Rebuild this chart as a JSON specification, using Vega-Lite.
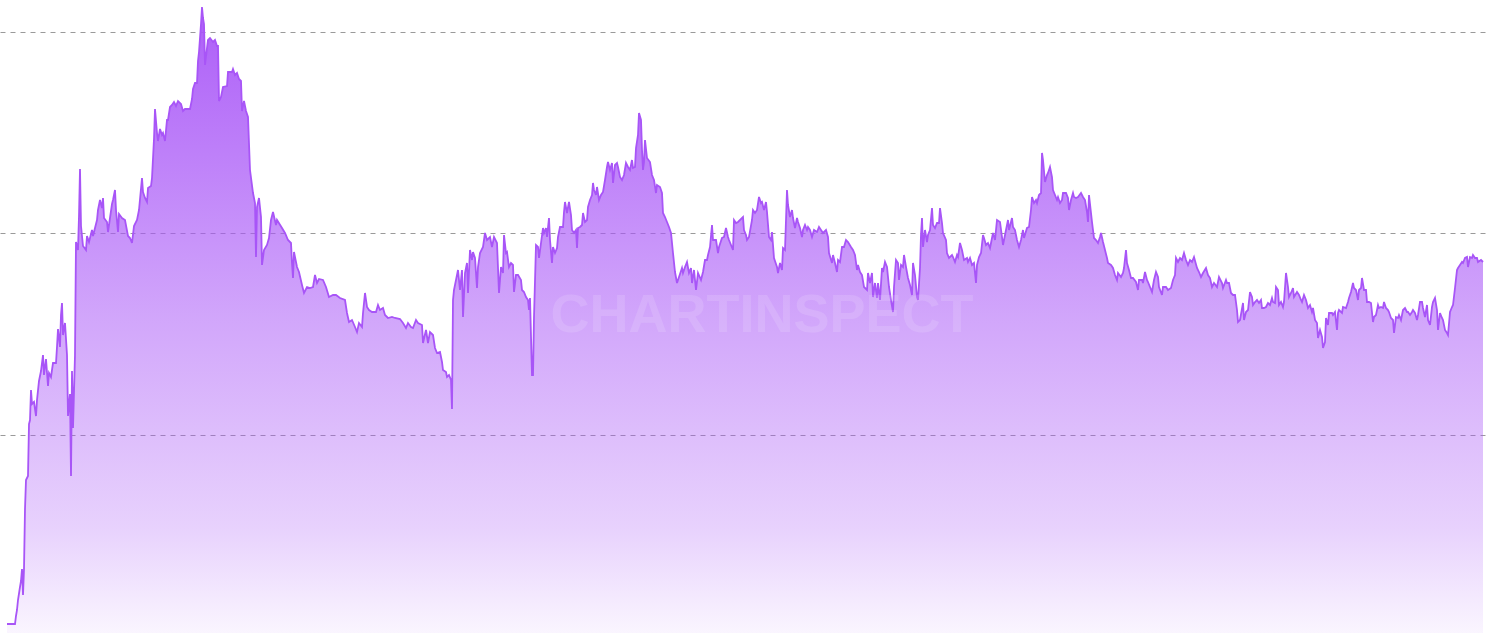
{
"$schema":"https://vega.github.io/schema/vega-lite/v6.json",
"width":1486,"height":633,"padding":0,"autosize":{"type":"none"},
"background":"white",
"config":{"view":{"stroke":null}},
"datasets":{"series":[
{"t":7,"v":9},{"t":15,"v":9},{"t":16,"v":17},{"t":17,"v":23},{"t":18,"v":33},{"t":20,"v":46},{"t":21,"v":52},{"t":22,"v":64},{"t":23,"v":38},{"t":24,"v":64},{"t":25,"v":124},{"t":26,"v":153},{"t":28,"v":157},{"t":29,"v":209},{"t":30,"v":213},{"t":31,"v":243},{"t":32,"v":229},{"t":34,"v":231},{"t":36,"v":217},{"t":37,"v":233},{"t":39,"v":252},{"t":41,"v":262},{"t":43,"v":278},{"t":44,"v":258},{"t":46,"v":274},{"t":48,"v":247},{"t":49,"v":260},{"t":51,"v":256},{"t":53,"v":270},{"t":56,"v":270},{"t":57,"v":286},{"t":58,"v":304},{"t":60,"v":286},{"t":61,"v":318},{"t":62,"v":330},{"t":63,"v":298},{"t":65,"v":310},{"t":67,"v":278},{"t":68,"v":217},{"t":70,"v":239},{"t":71,"v":157},{"t":72,"v":262},{"t":73,"v":205},{"t":75,"v":278},{"t":76,"v":391},{"t":78,"v":383},{"t":79,"v":417},{"t":80,"v":464},{"t":81,"v":407},{"t":83,"v":387},{"t":86,"v":383},{"t":87,"v":397},{"t":89,"v":391},{"t":92,"v":403},{"t":93,"v":397},{"t":97,"v":413},{"t":98,"v":423},{"t":100,"v":433},{"t":102,"v":425},{"t":103,"v":435},{"t":104,"v":415},{"t":107,"v":411},{"t":108,"v":401},{"t":110,"v":415},{"t":112,"v":429},{"t":113,"v":433},{"t":115,"v":443},{"t":116,"v":423},{"t":118,"v":401},{"t":119,"v":419},{"t":122,"v":415},{"t":125,"v":413},{"t":128,"v":397},{"t":130,"v":395},{"t":132,"v":390},{"t":134,"v":407},{"t":137,"v":413},{"t":139,"v":423},{"t":142,"v":455},{"t":143,"v":441},{"t":145,"v":435},{"t":147,"v":431},{"t":148,"v":445},{"t":151,"v":447},{"t":152,"v":455},{"t":154,"v":494},{"t":155,"v":524},{"t":157,"v":500},{"t":158,"v":492},{"t":160,"v":504},{"t":162,"v":498},{"t":163,"v":500},{"t":165,"v":492},{"t":167,"v":513},{"t":168,"v":513},{"t":170,"v":526},{"t":172,"v":528},{"t":174,"v":531},{"t":176,"v":527},{"t":178,"v":532},{"t":181,"v":529},{"t":183,"v":522},{"t":185,"v":524},{"t":190,"v":524},{"t":192,"v":534},{"t":193,"v":544},{"t":195,"v":550},{"t":197,"v":550},{"t":198,"v":572},{"t":199,"v":581},{"t":201,"v":609},{"t":202,"v":626},{"t":203,"v":615},{"t":204,"v":609},{"t":205,"v":568},{"t":207,"v":585},{"t":208,"v":593},{"t":210,"v":595},{"t":213,"v":591},{"t":215,"v":593},{"t":217,"v":587},{"t":218,"v":587},{"t":219,"v":532},{"t":221,"v":536},{"t":223,"v":546},{"t":227,"v":547},{"t":228,"v":561},{"t":232,"v":561},{"t":233,"v":564},{"t":235,"v":558},{"t":237,"v":560},{"t":239,"v":554},{"t":241,"v":552},{"t":242,"v":522},{"t":244,"v":532},{"t":246,"v":522},{"t":248,"v":516},{"t":250,"v":463},
{"t":253,"v":440},{"t":255,"v":430},{"t":256,"v":376},{"t":257,"v":426},{"t":259,"v":435},{"t":261,"v":416},{"t":262,"v":368},{"t":264,"v":383},{"t":267,"v":388},{"t":269,"v":395},{"t":271,"v":413},{"t":273,"v":421},{"t":276,"v":408},{"t":277,"v":413},{"t":282,"v":405},{"t":285,"v":400},{"t":288,"v":393},{"t":291,"v":390},{"t":292,"v":370},{"t":293,"v":355},{"t":294,"v":381},{"t":297,"v":366},{"t":299,"v":361},{"t":302,"v":348},{"t":304,"v":340},{"t":307,"v":346},{"t":310,"v":345},{"t":313,"v":346},{"t":315,"v":358},{"t":317,"v":350},{"t":319,"v":354},{"t":323,"v":353},{"t":326,"v":346},{"t":329,"v":336},{"t":333,"v":338},{"t":336,"v":338},{"t":340,"v":335},{"t":345,"v":333},{"t":347,"v":320},{"t":349,"v":311},{"t":352,"v":313},{"t":355,"v":306},{"t":357,"v":301},{"t":359,"v":310},{"t":362,"v":306},{"t":363,"v":320},{"t":365,"v":340},{"t":367,"v":326},{"t":369,"v":323},{"t":372,"v":321},{"t":376,"v":321},{"t":378,"v":328},{"t":380,"v":323},{"t":383,"v":325},{"t":385,"v":318},{"t":388,"v":315},{"t":392,"v":316},{"t":395,"v":315},{"t":400,"v":314},{"t":403,"v":310},{"t":406,"v":305},{"t":408,"v":310},{"t":411,"v":306},{"t":413,"v":305},{"t":416,"v":313},{"t":418,"v":310},{"t":422,"v":308},{"t":423,"v":290},{"t":426,"v":303},{"t":428,"v":290},{"t":430,"v":301},{"t":433,"v":298},{"t":435,"v":285},{"t":437,"v":280},{"t":440,"v":281},{"t":442,"v":271},{"t":443,"v":263},{"t":446,"v":261},{"t":447,"v":256},{"t":449,"v":258},{"t":451,"v":253},{"t":452,"v":224},{"t":453,"v":333},{"t":454,"v":343},{"t":456,"v":353},{"t":458,"v":363},{"t":460,"v":343},{"t":462,"v":363},{"t":463,"v":316},{"t":465,"v":360},{"t":467,"v":370},{"t":468,"v":340},{"t":470,"v":383},{"t":472,"v":373},{"t":473,"v":381},{"t":475,"v":375},{"t":477,"v":345},{"t":478,"v":366},{"t":480,"v":380},{"t":483,"v":386},{"t":485,"v":400},{"t":487,"v":393},
{"t":490,"v":396},{"t":492,"v":386},{"t":494,"v":396},{"t":497,"v":390},{"t":499,"v":340},{"t":501,"v":366},{"t":503,"v":360},{"t":504,"v":398},{"t":506,"v":380},{"t":507,"v":381},{"t":509,"v":366},{"t":511,"v":370},{"t":513,"v":368},{"t":514,"v":341},{"t":516,"v":358},{"t":518,"v":358},{"t":521,"v":353},{"t":522,"v":343},{"t":524,"v":341},{"t":526,"v":336},{"t":528,"v":333},{"t":529,"v":323},{"t":530,"v":335},{"t":532,"v":258},{"t":533,"v":258},{"t":534,"v":316},{"t":536,"v":388},{"t":538,"v":386},{"t":539,"v":375},{"t":541,"v":390},{"t":543,"v":405},{"t":544,"v":400},{"t":546,"v":405},{"t":547,"v":396},{"t":549,"v":415},{"t":550,"v":393},{"t":552,"v":370},{"t":553,"v":386},{"t":555,"v":380},{"t":557,"v":385},{"t":558,"v":396},{"t":560,"v":406},{"t":563,"v":406},{"t":564,"v":421},{"t":565,"v":431},{"t":567,"v":420},{"t":569,"v":431},{"t":571,"v":418},{"t":572,"v":403},{"t":574,"v":400},{"t":576,"v":403},{"t":577,"v":385},{"t":578,"v":405},{"t":580,"v":406},{"t":582,"v":408},{"t":583,"v":420},{"t":585,"v":411},{"t":587,"v":413},{"t":588,"v":426},{"t":590,"v":433},{"t":592,"v":438},{"t":593,"v":450},{"t":594,"v":443},{"t":596,"v":438},{"t":597,"v":446},{"t":599,"v":433},{"t":601,"v":438},{"t":603,"v":441},{"t":605,"v":453},{"t":607,"v":466},{"t":608,"v":471},{"t":610,"v":463},{"t":612,"v":470},{"t":613,"v":450},{"t":615,"v":468},{"t":617,"v":470},{"t":618,"v":466},{"t":620,"v":456},{"t":622,"v":453},{"t":624,"v":458},{"t":626,"v":470},{"t":628,"v":466},{"t":630,"v":463},{"t":632,"v":473},{"t":633,"v":465},{"t":635,"v":466},{"t":636,"v":485},{"t":638,"v":498},{"t":639,"v":520},{"t":641,"v":513},{"t":642,"v":483},{"t":643,"v":463},{"t":644,"v":471},{"t":645,"v":493},{"t":647,"v":475},{"t":650,"v":471},{"t":652,"v":458},{"t":654,"v":453},{"t":656,"v":440},{"t":657,"v":448},{"t":660,"v":446},{"t":662,"v":440},{"t":663,"v":420},{"t":665,"v":416},{"t":667,"v":411},{"t":669,"v":406},{"t":671,"v":400},{"t":673,"v":380},{"t":675,"v":361},{"t":677,"v":350},{"t":679,"v":356},{"t":682,"v":365},{"t":683,"v":360},{"t":685,"v":366},{"t":687,"v":371},{"t":689,"v":360},{"t":691,"v":365},{"t":692,"v":350},{"t":694,"v":363},{"t":696,"v":343},{"t":698,"v":360},{"t":701,"v":353},{"t":703,"v":361},{"t":705,"v":373},{"t":707,"v":373},{"t":708,"v":378},{"t":710,"v":386},{"t":712,"v":408},{"t":713,"v":393},{"t":716,"v":393},{"t":718,"v":380},{"t":719,"v":386},{"t":722,"v":395},{"t":724,"v":396},{"t":726,"v":405},{"t":728,"v":396},{"t":729,"v":393},{"t":731,"v":388},{"t":733,"v":383},{"t":734,"v":413},{"t":736,"v":410},{"t":738,"v":411},
{"t":743,"v":416},{"t":744,"v":403},{"t":746,"v":398},{"t":747,"v":393},{"t":749,"v":396},{"t":752,"v":413},{"t":753,"v":423},{"t":755,"v":420},{"t":757,"v":423},{"t":759,"v":436},{"t":761,"v":430},{"t":762,"v":431},{"t":764,"v":423},{"t":766,"v":431},{"t":767,"v":421},{"t":769,"v":396},{"t":771,"v":393},{"t":772,"v":401},{"t":774,"v":375},{"t":777,"v":366},{"t":778,"v":360},{"t":780,"v":370},{"t":782,"v":363},{"t":783,"v":385},{"t":785,"v":383},{"t":787,"v":443},{"t":788,"v":428},{"t":790,"v":416},{"t":792,"v":423},{"t":793,"v":415},{"t":795,"v":405},{"t":797,"v":415},{"t":798,"v":411},{"t":800,"v":405},{"t":802,"v":396},{"t":803,"v":403},{"t":805,"v":408},{"t":807,"v":403},{"t":808,"v":406},{"t":810,"v":403},{"t":812,"v":396},{"t":814,"v":403},{"t":817,"v":401},{"t":819,"v":406},{"t":821,"v":403},{"t":823,"v":400},{"t":826,"v":403},{"t":828,"v":396},{"t":829,"v":380},{"t":832,"v":370},{"t":833,"v":378},{"t":835,"v":370},{"t":837,"v":361},{"t":838,"v":373},{"t":840,"v":371},{"t":842,"v":386},{"t":844,"v":386},{"t":846,"v":393},{"t":848,"v":391},{"t":851,"v":386},{"t":853,"v":383},{"t":855,"v":378},{"t":857,"v":363},{"t":858,"v":368},{"t":860,"v":361},{"t":862,"v":358},{"t":864,"v":346},{"t":867,"v":343},{"t":868,"v":360},{"t":870,"v":350},{"t":872,"v":360},{"t":873,"v":336},{"t":875,"v":350},{"t":877,"v":335},{"t":878,"v":350},{"t":880,"v":333},{"t":882,"v":365},{"t":883,"v":361},{"t":885,"v":371},{"t":887,"v":366},{"t":889,"v":346},{"t":891,"v":333},{"t":893,"v":321},{"t":894,"v":346},{"t":896,"v":373},{"t":898,"v":370},{"t":899,"v":353},{"t":901,"v":368},{"t":903,"v":366},{"t":904,"v":378},{"t":906,"v":366},{"t":908,"v":355},{"t":910,"v":348},{"t":912,"v":338},{"t":913,"v":370},{"t":915,"v":358},{"t":917,"v":336},{"t":918,"v":333},{"t":920,"v":365},{"t":921,"v":398},{"t":922,"v":415},{"t":923,"v":386},{"t":925,"v":403},{"t":927,"v":391},{"t":928,"v":398},{"t":930,"v":403},{"t":932,"v":425},{"t":933,"v":408},{"t":935,"v":405},{"t":937,"v":410},{"t":939,"v":410},{"t":940,"v":425},{"t":942,"v":410},{"t":943,"v":400},{"t":946,"v":393},{"t":947,"v":380},{"t":949,"v":375},{"t":952,"v":378},{"t":953,"v":376},{"t":955,"v":371},{"t":957,"v":378},{"t":958,"v":376},{"t":960,"v":390},{"t":962,"v":383},{"t":964,"v":373},{"t":967,"v":375},{"t":968,"v":371},{"t":970,"v":375},{"t":972,"v":368},{"t":974,"v":370},{"t":976,"v":350},{"t":977,"v":368},{"t":979,"v":376},{"t":981,"v":380},{"t":983,"v":398},{"t":984,"v":395},{"t":986,"v":388},{"t":988,"v":390},
{"t":990,"v":385},{"t":993,"v":400},{"t":995,"v":393},{"t":997,"v":413},{"t":1000,"v":411},{"t":1002,"v":396},{"t":1003,"v":388},{"t":1006,"v":403},{"t":1008,"v":413},{"t":1009,"v":403},{"t":1012,"v":415},{"t":1013,"v":406},{"t":1015,"v":403},{"t":1017,"v":393},{"t":1019,"v":386},{"t":1021,"v":393},{"t":1023,"v":403},{"t":1024,"v":395},{"t":1027,"v":405},{"t":1029,"v":406},{"t":1031,"v":423},{"t":1032,"v":436},{"t":1034,"v":430},{"t":1036,"v":433},{"t":1037,"v":430},{"t":1039,"v":438},{"t":1041,"v":440},{"t":1042,"v":480},{"t":1043,"v":473},{"t":1045,"v":451},{"t":1047,"v":458},{"t":1048,"v":460},{"t":1050,"v":466},{"t":1052,"v":456},{"t":1053,"v":443},{"t":1055,"v":438},{"t":1057,"v":433},{"t":1058,"v":436},{"t":1060,"v":430},{"t":1062,"v":433},{"t":1063,"v":440},{"t":1066,"v":440},{"t":1068,"v":435},{"t":1069,"v":423},{"t":1071,"v":433},{"t":1073,"v":440},{"t":1074,"v":436},{"t":1076,"v":435},{"t":1078,"v":436},{"t":1081,"v":440},{"t":1083,"v":436},{"t":1085,"v":433},{"t":1087,"v":421},{"t":1088,"v":411},{"t":1089,"v":438},{"t":1091,"v":420},{"t":1092,"v":411},{"t":1094,"v":395},{"t":1096,"v":393},{"t":1098,"v":390},{"t":1100,"v":396},{"t":1101,"v":400},{"t":1103,"v":391},{"t":1105,"v":383},{"t":1107,"v":375},{"t":1108,"v":370},{"t":1111,"v":368},{"t":1113,"v":365},{"t":1115,"v":358},{"t":1117,"v":353},{"t":1118,"v":360},{"t":1121,"v":356},{"t":1123,"v":360},{"t":1124,"v":365},{"t":1126,"v":383},{"t":1127,"v":370},{"t":1129,"v":363},{"t":1131,"v":355},{"t":1133,"v":355},{"t":1136,"v":351},{"t":1138,"v":343},{"t":1139,"v":353},{"t":1142,"v":353},{"t":1143,"v":350},{"t":1145,"v":361},{"t":1147,"v":353},{"t":1148,"v":351},{"t":1150,"v":346},{"t":1152,"v":341},{"t":1154,"v":353},{"t":1156,"v":361},{"t":1158,"v":356},{"t":1159,"v":346},{"t":1162,"v":338},{"t":1163,"v":346},{"t":1166,"v":346},{"t":1168,"v":343},{"t":1171,"v":345},{"t":1173,"v":353},{"t":1175,"v":358},{"t":1176,"v":375},{"t":1178,"v":371},{"t":1180,"v":375},{"t":1182,"v":373},{"t":1184,"v":380},{"t":1186,"v":373},{"t":1188,"v":368},{"t":1190,"v":373},{"t":1192,"v":371},{"t":1194,"v":376},{"t":1197,"v":365},{"t":1199,"v":361},{"t":1201,"v":356},{"t":1203,"v":360},{"t":1206,"v":365},{"t":1208,"v":358},{"t":1210,"v":355},{"t":1212,"v":346},{"t":1214,"v":350},{"t":1217,"v":346},{"t":1219,"v":356},{"t":1222,"v":350},{"t":1223,"v":345},{"t":1226,"v":353},{"t":1227,"v":350},{"t":1229,"v":350},{"t":1231,"v":340},{"t":1233,"v":338},{"t":1235,"v":338},{"t":1237,"v":323},{"t":1238,"v":311},
{"t":1240,"v":313},{"t":1243,"v":330},{"t":1244,"v":313},{"t":1246,"v":321},{"t":1248,"v":323},{"t":1250,"v":341},{"t":1252,"v":336},{"t":1253,"v":328},{"t":1255,"v":331},{"t":1257,"v":333},{"t":1259,"v":330},{"t":1261,"v":333},{"t":1262,"v":325},{"t":1264,"v":325},{"t":1266,"v":326},{"t":1268,"v":330},{"t":1270,"v":328},{"t":1272,"v":335},{"t":1273,"v":331},{"t":1275,"v":330},{"t":1276,"v":346},{"t":1278,"v":343},{"t":1279,"v":328},{"t":1281,"v":331},{"t":1283,"v":326},{"t":1284,"v":331},{"t":1286,"v":360},{"t":1288,"v":346},{"t":1289,"v":336},{"t":1291,"v":340},{"t":1293,"v":345},{"t":1294,"v":336},{"t":1297,"v":341},{"t":1299,"v":338},{"t":1301,"v":333},{"t":1302,"v":331},{"t":1304,"v":338},{"t":1306,"v":333},{"t":1308,"v":325},{"t":1310,"v":328},{"t":1312,"v":321},{"t":1313,"v":325},{"t":1315,"v":313},{"t":1317,"v":310},{"t":1318,"v":295},{"t":1320,"v":303},{"t":1322,"v":296},{"t":1323,"v":285},{"t":1325,"v":291},{"t":1326,"v":315},{"t":1328,"v":308},{"t":1329,"v":320},{"t":1332,"v":320},{"t":1333,"v":318},{"t":1335,"v":321},{"t":1337,"v":303},{"t":1338,"v":320},{"t":1339,"v":323},{"t":1342,"v":320},{"t":1343,"v":326},{"t":1346,"v":325},{"t":1348,"v":331},{"t":1349,"v":335},{"t":1351,"v":341},{"t":1353,"v":350},{"t":1354,"v":345},{"t":1356,"v":343},{"t":1358,"v":333},{"t":1359,"v":343},{"t":1361,"v":345},{"t":1362,"v":355},{"t":1364,"v":343},{"t":1366,"v":343},{"t":1367,"v":331},{"t":1369,"v":331},{"t":1371,"v":330},{"t":1373,"v":311},{"t":1374,"v":316},{"t":1376,"v":318},{"t":1378,"v":328},{"t":1379,"v":325},{"t":1381,"v":326},{"t":1383,"v":325},{"t":1384,"v":331},{"t":1386,"v":325},{"t":1388,"v":323},{"t":1389,"v":321},{"t":1391,"v":315},{"t":1393,"v":313},{"t":1394,"v":300},{"t":1396,"v":316},{"t":1398,"v":315},{"t":1399,"v":318},{"t":1401,"v":313},{"t":1403,"v":323},{"t":1405,"v":325},{"t":1407,"v":321},{"t":1408,"v":321},{"t":1410,"v":318},{"t":1412,"v":321},{"t":1413,"v":323},{"t":1415,"v":320},{"t":1417,"v":313},{"t":1418,"v":318},{"t":1420,"v":331},{"t":1422,"v":331},{"t":1423,"v":325},{"t":1425,"v":316},{"t":1427,"v":328},{"t":1428,"v":313},{"t":1430,"v":308},{"t":1432,"v":326},{"t":1433,"v":331},{"t":1435,"v":335},{"t":1437,"v":323},{"t":1438,"v":303},{"t":1440,"v":320},{"t":1442,"v":315},{"t":1443,"v":313},{"t":1445,"v":303},{"t":1447,"v":300},{"t":1448,"v":298},{"t":1450,"v":321},{"t":1452,"v":326},{"t":1453,"v":328},{"t":1455,"v":345},{"t":1457,"v":363},{"t":1458,"v":365},{"t":1460,"v":368},{"t":1462,"v":371},{"t":1463,"v":370},{"t":1465,"v":375},{"t":1467,"v":376},{"t":1468,"v":366},{"t":1470,"v":376},{"t":1472,"v":375},{"t":1473,"v":378},{"t":1475,"v":375},{"t":1477,"v":375},{"t":1478,"v":371},{"t":1481,"v":373},{"t":1483,"v":371}
],
"mark":[{"t":762,"v":317,"label":"CHARTINSPECT"}]},
"layer":[
{"data":{"name":"series"},
 "mark":{"type":"area","interpolate":"linear","fill":{"gradient":"linear","x1":0,"y1":0,"x2":0,"y2":1,"stops":[{"offset":0,"color":"rgba(168,85,247,0.95)"},{"offset":0.5,"color":"rgba(168,85,247,0.52)"},{"offset":0.83,"color":"rgba(168,85,247,0.27)"},{"offset":1,"color":"rgba(168,85,247,0.06)"}]}},
 "encoding":{
  "x":{"field":"t","type":"quantitative","scale":{"domain":[0,1486],"nice":false,"zero":false},"axis":null},
  "y":{"field":"v","type":"quantitative","scale":{"domain":[0,633],"nice":false},"axis":{"values":[198,400,601],"grid":true,"gridDash":[5,5],"gridColor":"#9a9a9a","gridWidth":1,"labels":false,"ticks":false,"domain":false,"title":null}}
 }},
{"data":{"name":"series"},
 "mark":{"type":"line","interpolate":"linear","stroke":"#a855f7","strokeWidth":1.8},
 "encoding":{
  "x":{"field":"t","type":"quantitative"},
  "y":{"field":"v","type":"quantitative"}
 }},
{"data":{"name":"mark"},
 "mark":{"type":"text","font":"Liberation Sans","fontWeight":"bold","fontSize":54,"fill":"white","opacity":0.13,"align":"center","baseline":"middle"},
 "encoding":{
  "x":{"field":"t","type":"quantitative"},
  "y":{"field":"v","type":"quantitative"},
  "text":{"field":"label"}
 }}
]
}
